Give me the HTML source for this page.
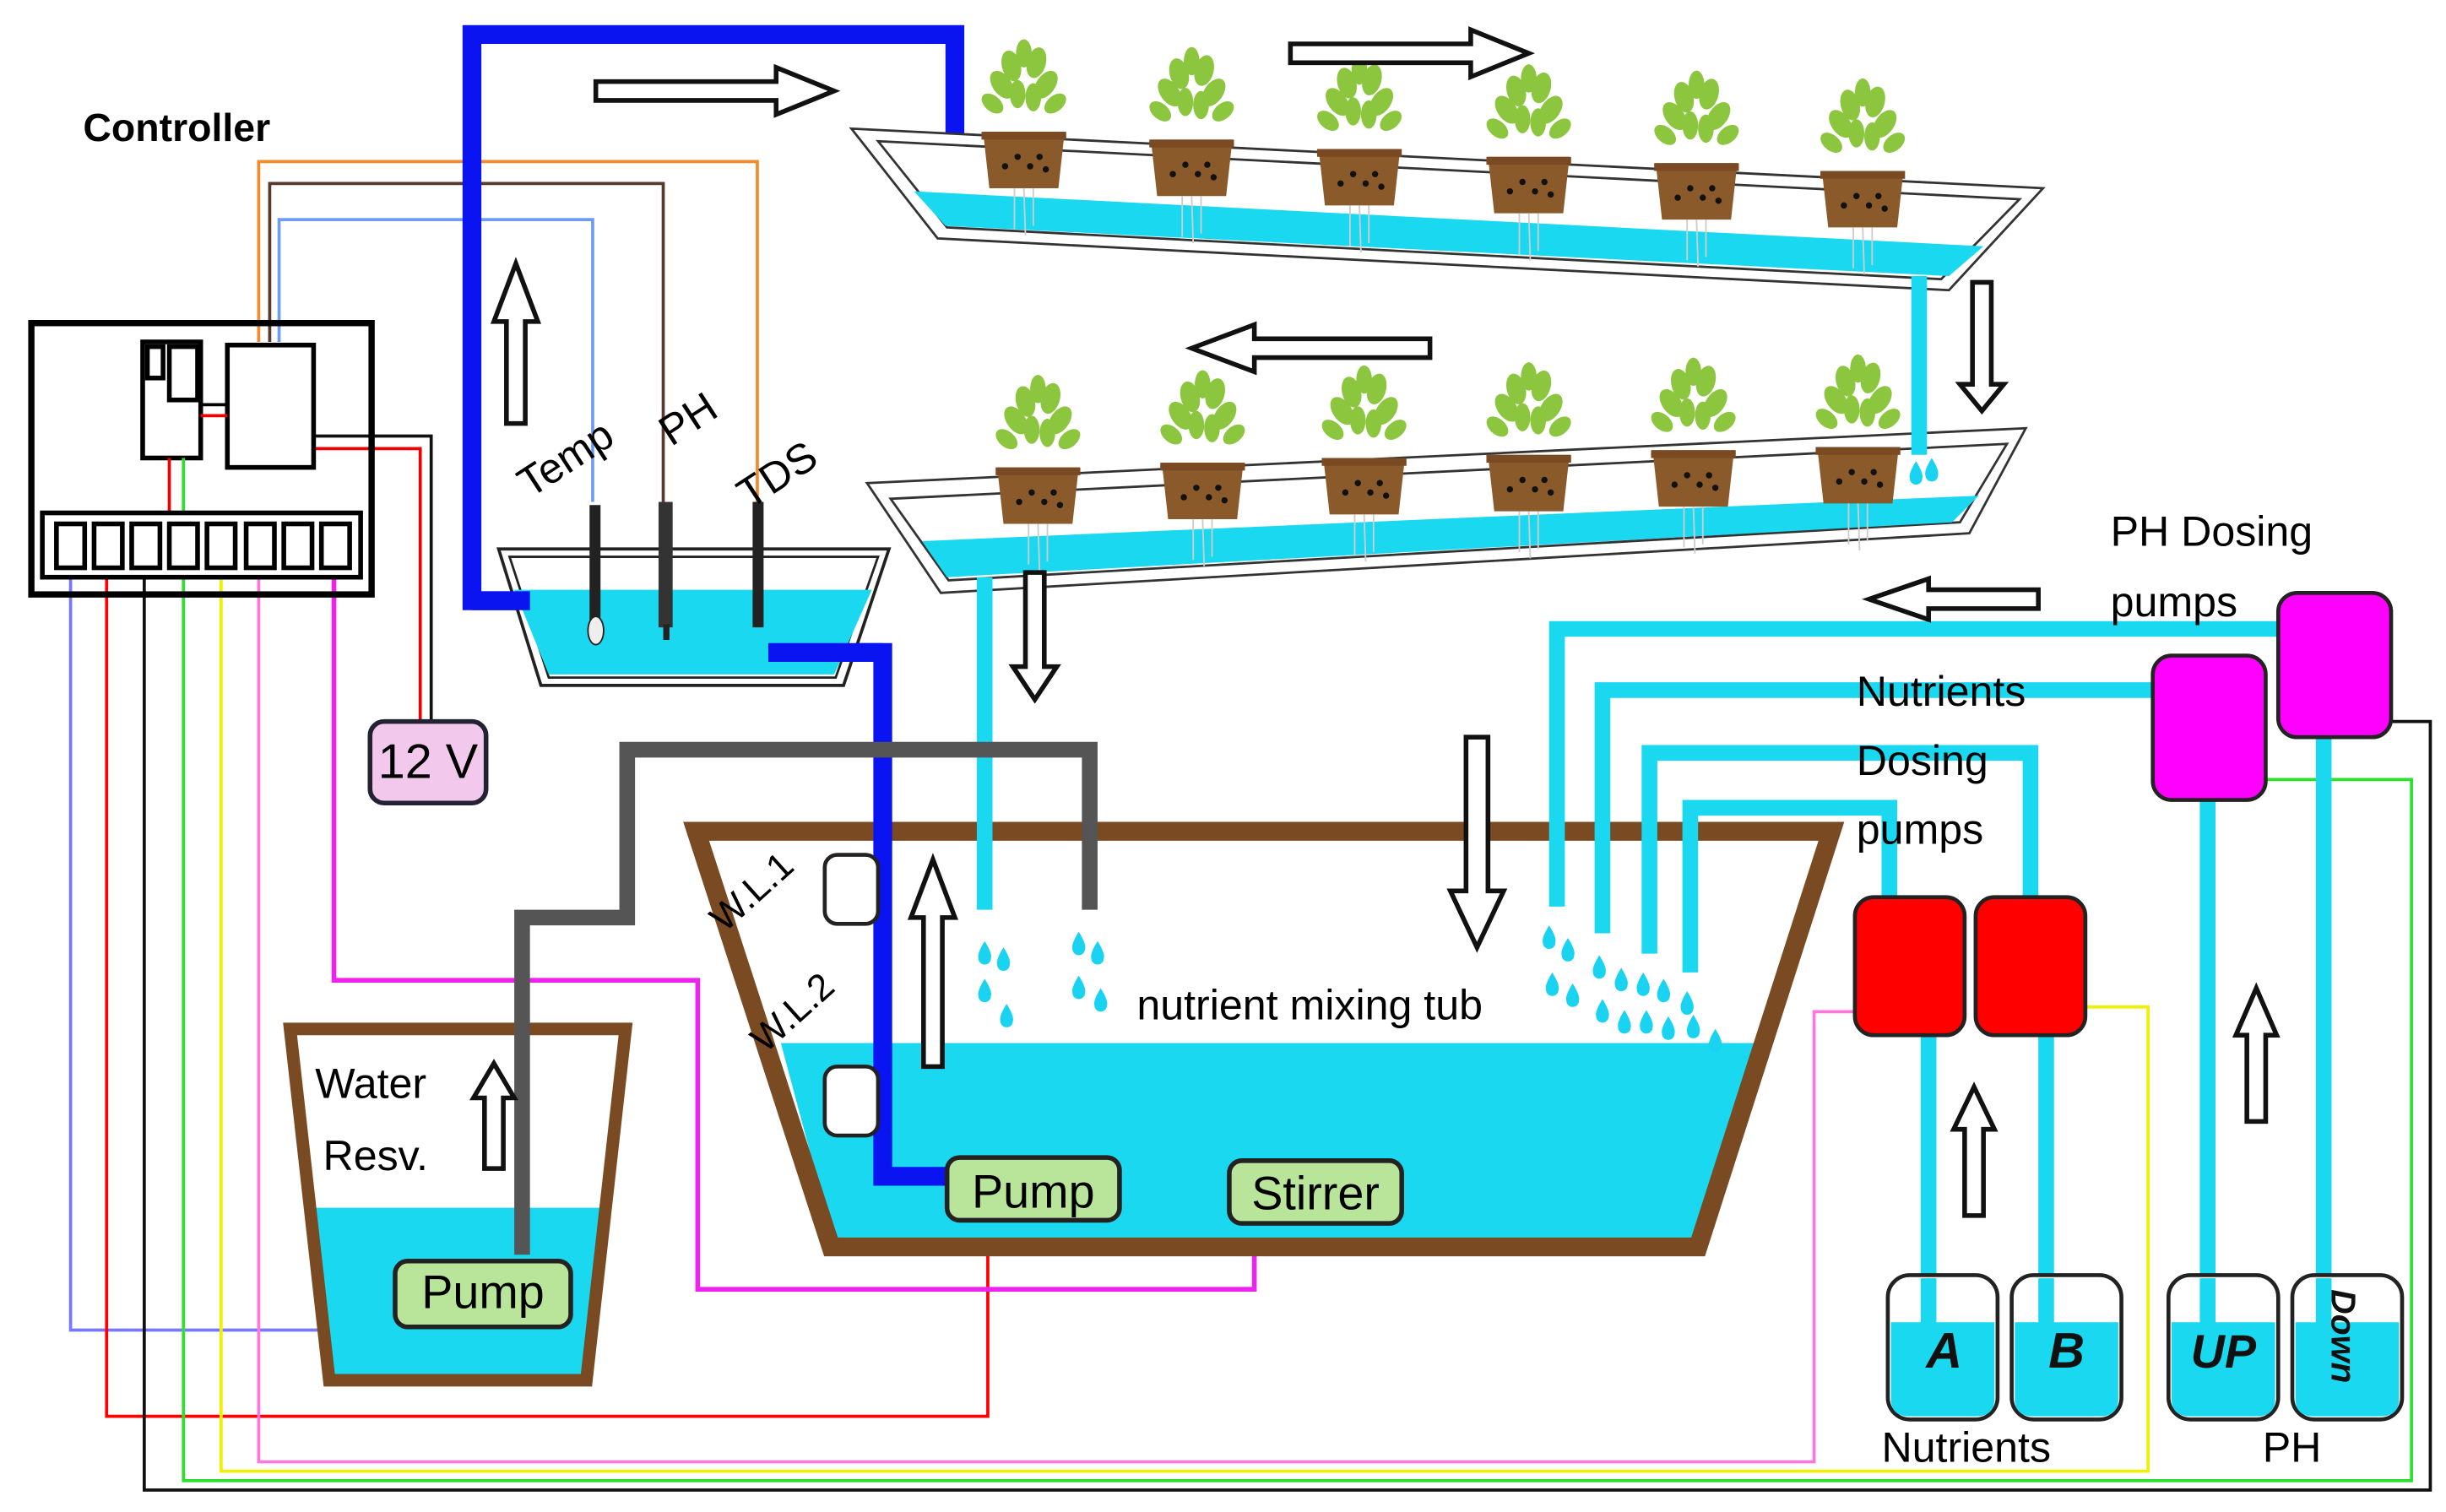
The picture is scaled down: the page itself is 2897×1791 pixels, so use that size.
<!DOCTYPE html>
<html><head><meta charset="utf-8"><style>html,body{margin:0;padding:0;background:#fff}svg{display:block}</style></head><body>
<svg width="2897" height="1791" viewBox="0 0 1560 964" preserveAspectRatio="none" xmlns="http://www.w3.org/2000/svg" font-family="Liberation Sans, sans-serif">
<defs>
<g id="plant">
<g fill="#8cc63f">
<ellipse cx="-14" cy="-30" rx="6" ry="10" transform="rotate(-35 -14 -30)"/>
<ellipse cx="14" cy="-30" rx="6" ry="10" transform="rotate(35 14 -30)"/>
<ellipse cx="-8" cy="-42" rx="6" ry="10" transform="rotate(-15 -8 -42)"/>
<ellipse cx="8" cy="-44" rx="6" ry="10" transform="rotate(15 8 -44)"/>
<ellipse cx="0" cy="-50" rx="5" ry="9"/>
<ellipse cx="-20" cy="-18" rx="5" ry="8" transform="rotate(-50 -20 -18)"/>
<ellipse cx="20" cy="-18" rx="5" ry="8" transform="rotate(50 20 -18)"/>
<ellipse cx="-4" cy="-24" rx="5" ry="9"/>
<ellipse cx="6" cy="-22" rx="5" ry="9"/>
</g>
<path d="M-26 0 H26 L22 36 H-22 Z" fill="#8b5a2b"/>
<rect x="-27" y="0" width="54" height="5" fill="#7a4a22"/>
<g fill="#111"><circle cx="-12" cy="22" r="2"/><circle cx="-4" cy="16" r="2"/><circle cx="4" cy="22" r="2"/><circle cx="10" cy="16" r="2"/><circle cx="14" cy="24" r="2"/></g>
<g stroke="#ccc" stroke-width="1"><line x1="-6" y1="36" x2="-6" y2="62"/><line x1="0" y1="36" x2="1" y2="66"/><line x1="6" y1="36" x2="6" y2="60"/></g>
</g>
<g id="drop"><path d="M0 -8 Q5 0 4 3 A4 4 0 0 1 -4 3 Q-5 0 0 -8Z" fill="#1ad3f0"/></g>
</defs>

<!-- top wires -->
<polyline points="165,218 165,103 483,103 483,320" fill="none" stroke="#f28a2e" stroke-width="2"/>
<polyline points="172,218 172,117 423,117 423,320" fill="none" stroke="#5a3a2a" stroke-width="2"/>
<polyline points="178,218 178,140 378,140 378,320" fill="none" stroke="#6f9cf0" stroke-width="2"/>

<!-- bottom wires -->
<polyline points="45,355 45,848 255,848" fill="none" stroke="#7777ff" stroke-width="2"/>
<polyline points="68,355 68,903 630,903 630,780" fill="none" stroke="#f00" stroke-width="2"/>
<polyline points="92,355 92,950 1550,950 1550,460 1520,460" fill="none" stroke="#111" stroke-width="2"/>
<polyline points="117,355 117,944 1538,944 1538,497 1435,497" fill="none" stroke="#2de02d" stroke-width="2"/>
<polyline points="141,355 141,938 1370,938 1370,642 1325,642" fill="none" stroke="#f0f000" stroke-width="2"/>
<polyline points="165,355 165,932 1157,932 1157,645 1198,645" fill="none" stroke="#ff77dd" stroke-width="2"/>
<polyline points="213,355 213,625 445,625 445,822 800,822 800,780" fill="none" stroke="#ee22ee" stroke-width="3"/>
<polyline points="200,286 268,286 268,462" fill="none" stroke="#e00" stroke-width="2"/>
<polyline points="200,278 275,278 275,462" fill="none" stroke="#111" stroke-width="2"/>

<!-- controller -->
<rect x="20" y="206" width="217" height="173" fill="none" stroke="#000" stroke-width="4"/>
<rect x="91" y="218" width="37" height="74" fill="#fff" stroke="#000" stroke-width="3"/>
<rect x="94" y="221" width="10" height="20" fill="#fff" stroke="#000" stroke-width="3"/>
<rect x="108" y="221" width="18" height="34" fill="#fff" stroke="#000" stroke-width="3"/>
<rect x="145" y="220" width="55" height="78" fill="#fff" stroke="#000" stroke-width="3"/>
<line x1="128" y1="258" x2="145" y2="258" stroke="#000" stroke-width="2"/>
<line x1="128" y1="265" x2="145" y2="265" stroke="#e00" stroke-width="2"/>
<line x1="108" y1="292" x2="108" y2="328" stroke="#e00" stroke-width="2"/>
<line x1="117" y1="292" x2="117" y2="328" stroke="#2de02d" stroke-width="2"/>
<rect x="27" y="327" width="203" height="41" fill="#fff" stroke="#000" stroke-width="3"/>
<g fill="none" stroke="#000" stroke-width="3">
<rect x="36" y="334" width="18" height="28"/><rect x="60" y="334" width="18" height="28"/><rect x="84" y="334" width="18" height="28"/><rect x="108" y="334" width="18" height="28"/><rect x="132" y="334" width="18" height="28"/><rect x="157" y="334" width="18" height="28"/><rect x="181" y="334" width="18" height="28"/><rect x="205" y="334" width="18" height="28"/>
</g>
<text x="53" y="90" font-size="25" font-weight="bold">Controller</text>

<!-- 12V -->
<rect x="236" y="460" width="74" height="52" rx="9" fill="#f2c9ec" stroke="#223" stroke-width="3"/>
<text x="273" y="496" font-size="31" text-anchor="middle">12 V</text>

<!-- water reservoir (shape first) -->
<path d="M185 656 H399 L374 880 H210 Z" fill="#fff"/>
<path d="M195 770 H389 L374 876 H210 Z" fill="#1ad8f0"/>
<path d="M185 656 H399 L374 880 H210 Z" fill="none" stroke="#7a4a22" stroke-width="8"/>
<text x="201" y="700" font-size="27">Water</text>
<text x="206" y="746" font-size="27">Resv.</text>

<!-- mixing tub (shape first) -->
<path d="M444 530 H1168 L1083 795 H530 Z" fill="#fff"/>
<path d="M498 665 H1126 L1083 792 H532 Z" fill="#1ad8f0"/>
<path d="M444 530 H1168 L1083 795 H530 Z" fill="none" stroke="#7a4a22" stroke-width="12"/>

<!-- blue pipes -->
<polyline points="338,383 301,383 301,22 609,22 609,92" fill="none" stroke="#0a14f0" stroke-width="12"/>
<polyline points="490,416 563,416 563,750 605,750" fill="none" stroke="#0a14f0" stroke-width="12"/>
<use href="#drop" x="603" y="110"/><use href="#drop" x="614" y="112"/>

<!-- sensor tub -->
<path d="M318 350 H567 L538 437 H345 Z" fill="#fff" stroke="#222" stroke-width="2"/>
<path d="M325 355 H560 L533 432 H350 Z" fill="none" stroke="#222" stroke-width="1.5"/>
<path d="M328 376 H556 L532 430 H350 Z" fill="#1ad8f0"/>
<polyline points="338,383 301,383" stroke="#0a14f0" stroke-width="12"/>
<polyline points="490,416 563,416" stroke="#0a14f0" stroke-width="12"/>
<rect x="376" y="322" width="7" height="75" fill="#222"/><ellipse cx="380" cy="402" rx="5" ry="9" fill="#eee" stroke="#222"/>
<rect x="420" y="320" width="9" height="80" fill="#333"/><rect x="423" y="398" width="4" height="10" fill="#222"/>
<rect x="480" y="320" width="7" height="80" fill="#222"/>
<text font-size="27" transform="translate(338,318) rotate(-33)">Temp</text>
<text font-size="27" transform="translate(428,285) rotate(-33)">PH</text>
<text font-size="27" transform="translate(478,325) rotate(-33)">TDS</text>

<!-- channels -->
<path d="M543 82 L1303 120 L1243 185 L598 152 Z" fill="#fff" stroke="#333" stroke-width="1.5"/>
<path d="M560 90 L1288 127 L1238 178 L604 145 Z" fill="none" stroke="#333" stroke-width="1.5"/>
<path d="M583 122 L1265 157 L1243 176 L603 144 Z" fill="#1ad8f0"/>
<path d="M553 308 L1292 273 L1256 340 L600 378 Z" fill="#fff" stroke="#333" stroke-width="1.5"/>
<path d="M568 318 L1280 283 L1250 333 L605 370 Z" fill="none" stroke="#333" stroke-width="1.5"/>
<path d="M588 345 L1262 316 L1245 333 L604 368 Z" fill="#1ad8f0"/>
<use href="#plant" x="653" y="84"/><use href="#plant" x="760" y="89"/><use href="#plant" x="867" y="95"/><use href="#plant" x="975" y="100"/><use href="#plant" x="1082" y="104"/><use href="#plant" x="1188" y="109"/>
<use href="#plant" x="662" y="298"/><use href="#plant" x="767" y="295"/><use href="#plant" x="870" y="292"/><use href="#plant" x="975" y="290"/><use href="#plant" x="1080" y="287"/><use href="#plant" x="1185" y="285"/>

<!-- cyan drainage -->
<line x1="1224" y1="176" x2="1224" y2="290" stroke="#1ad8f0" stroke-width="10"/>
<use href="#drop" x="1222" y="302"/><use href="#drop" x="1232" y="300"/>
<line x1="628" y1="368" x2="628" y2="580" stroke="#1ad8f0" stroke-width="10"/>

<!-- gray pipe -->
<polyline points="333,800 333,585 400,585 400,478 695,478 695,580" fill="none" stroke="#555" stroke-width="10"/>

<!-- reservoir pump -->
<rect x="252" y="804" width="112" height="42" rx="8" fill="#b9e59a" stroke="#222" stroke-width="3"/>
<text x="308" y="834" font-size="30" text-anchor="middle">Pump</text>

<!-- tub contents -->
<rect x="526" y="545" width="34" height="44" rx="8" fill="#fff" stroke="#222" stroke-width="2.5"/>
<rect x="526" y="680" width="34" height="44" rx="8" fill="#fff" stroke="#222" stroke-width="2.5"/>
<text font-size="24" transform="translate(462,595) rotate(-42)">W.L.1</text>
<text font-size="24" transform="translate(488,672) rotate(-42)">W.L.2</text>
<text x="725" y="650" font-size="27">nutrient mixing tub</text>
<rect x="604" y="738" width="110" height="40" rx="8" fill="#b9e59a" stroke="#222" stroke-width="3"/>
<text x="659" y="770" font-size="30" text-anchor="middle">Pump</text>
<rect x="784" y="740" width="110" height="40" rx="8" fill="#b9e59a" stroke="#222" stroke-width="3"/>
<text x="839" y="771" font-size="30" text-anchor="middle">Stirrer</text>
<use href="#drop" x="628" y="608"/><use href="#drop" x="640" y="612"/><use href="#drop" x="628" y="632"/><use href="#drop" x="642" y="648"/>
<use href="#drop" x="688" y="602"/><use href="#drop" x="700" y="608"/><use href="#drop" x="688" y="630"/><use href="#drop" x="702" y="638"/>

<!-- dosing cyan pipes -->
<g fill="none" stroke="#1ad8f0" stroke-width="10">
<polyline points="993,578 993,401 1462,401"/>
<polyline points="1022,595 1022,440 1376,440"/>
<polyline points="1052,608 1052,480 1295,480 1295,574"/>
<polyline points="1078,620 1078,515 1205,515 1205,574"/>
<line x1="1230" y1="655" x2="1230" y2="820"/><line x1="1305" y1="655" x2="1305" y2="820"/>
<line x1="1408" y1="505" x2="1408" y2="820"/><line x1="1482" y1="465" x2="1482" y2="820"/>
</g>
<g>
<use href="#drop" x="988" y="598"/><use href="#drop" x="1000" y="606"/><use href="#drop" x="990" y="628"/><use href="#drop" x="1003" y="635"/>
<use href="#drop" x="1020" y="617"/><use href="#drop" x="1034" y="625"/><use href="#drop" x="1022" y="645"/><use href="#drop" x="1036" y="652"/>
<use href="#drop" x="1048" y="628"/><use href="#drop" x="1061" y="632"/><use href="#drop" x="1050" y="652"/><use href="#drop" x="1064" y="656"/>
<use href="#drop" x="1076" y="640"/><use href="#drop" x="1080" y="655"/><use href="#drop" x="1094" y="664"/>
</g>

<!-- pumps -->
<rect x="1183" y="572" width="70" height="88" rx="12" fill="#f00" stroke="#222" stroke-width="2.5"/>
<rect x="1260" y="572" width="70" height="88" rx="12" fill="#f00" stroke="#222" stroke-width="2.5"/>
<rect x="1373" y="418" width="72" height="92" rx="12" fill="#f0f" stroke="#222" stroke-width="2.5"/>
<rect x="1453" y="378" width="72" height="92" rx="12" fill="#f0f" stroke="#222" stroke-width="2.5"/>
<text x="1346" y="348" font-size="27">PH Dosing</text>
<text x="1346" y="393" font-size="27">pumps</text>
<text x="1184" y="450" font-size="27">Nutrients</text>
<text x="1184" y="494" font-size="27">Dosing</text>
<text x="1184" y="538" font-size="27">pumps</text>

<!-- bottles -->
<g stroke="#222" stroke-width="2.5">
<rect x="1204" y="813" width="70" height="92" rx="14" fill="#fff"/>
<rect x="1283" y="813" width="70" height="92" rx="14" fill="#fff"/>
<rect x="1383" y="813" width="70" height="92" rx="14" fill="#fff"/>
<rect x="1462" y="813" width="70" height="92" rx="14" fill="#fff"/>
</g>
<g fill="#1ad8f0">
<path d="M1206 843 H1272 V892 Q1272 903 1260 903 H1218 Q1206 903 1206 892Z"/>
<path d="M1285 843 H1351 V892 Q1351 903 1339 903 H1297 Q1285 903 1285 892Z"/>
<path d="M1385 843 H1451 V892 Q1451 903 1439 903 H1397 Q1385 903 1385 892Z"/>
<path d="M1464 843 H1530 V892 Q1530 903 1518 903 H1476 Q1464 903 1464 892Z"/>
</g>
<g stroke="#1ad8f0" stroke-width="10"><line x1="1230" y1="815" x2="1230" y2="845"/><line x1="1305" y1="815" x2="1305" y2="845"/><line x1="1408" y1="815" x2="1408" y2="845"/><line x1="1482" y1="815" x2="1482" y2="845"/></g>
<g font-weight="bold" font-style="italic" fill="#111">
<text x="1240" y="872" font-size="32" text-anchor="middle">A</text>
<text x="1318" y="872" font-size="32" text-anchor="middle">B</text>
<text x="1418" y="872" font-size="30" text-anchor="middle">UP</text>
<text font-size="22" transform="translate(1487,822) rotate(90)">Down</text>
</g>
<text x="1200" y="932" font-size="27">Nutrients</text>
<text x="1443" y="932" font-size="27">PH</text>

<!-- hollow arrows -->
<g fill="#fff" stroke="#111" stroke-width="3">
<path d="M380 52 H495 V43 L532 58 L495 73 V64 H380 Z"/>
<path d="M823 28 H938 V19 L975 34 L938 49 V40 H823 Z"/>
<path d="M912 216 H800 V207 L760 222 L800 237 V228 H912 Z"/>
<path d="M1300 376 H1230 V369 L1192 382 L1230 395 V388 H1300 Z"/>
<path d="M323 270 V205 H315 L329 168 L343 205 H335 V270 Z"/>
<path d="M1258 180 V245 H1250 L1264 262 L1278 245 H1270 V180 Z"/>
<path d="M654 365 V425 H646 L660 446 L674 425 H666 V365 Z"/>
<path d="M935 470 V568 H925 L942 604 L959 568 H949 V470 Z"/>
<path d="M589 680 V585 H581 L595 548 L609 585 H601 V680 Z"/>
<path d="M309 745 V700 H302 L315 678 L328 700 H321 V745 Z"/>
<path d="M1253 775 V720 H1246 L1259 693 L1272 720 H1265 V775 Z"/>
<path d="M1433 715 V660 H1426 L1439 630 L1452 660 H1445 V715 Z"/>
</g>
</svg>
</body></html>
